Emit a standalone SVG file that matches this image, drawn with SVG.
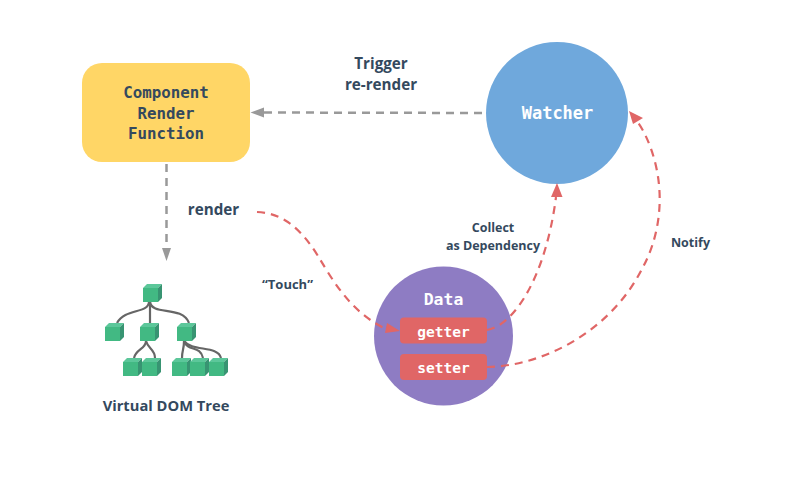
<svg xmlns="http://www.w3.org/2000/svg" width="794" height="477" viewBox="0 0 794 477">
<style>
.lbl{font-family:"Open Sans","Noto Sans",sans-serif;font-weight:700;fill:#34495e;text-anchor:middle}
.mono{font-family:"DejaVu Sans Mono","Liberation Mono",monospace;font-weight:700;text-anchor:middle}
.gray{fill:none;stroke:#999;stroke-width:2.5;stroke-dasharray:8 6}
.red{fill:none;stroke:#e06666;stroke-width:2.2;stroke-dasharray:8 6}
.tree{fill:none;stroke:#666;stroke-width:2.2}
</style>
<defs>
<g id="cube">
<polygon points="0,0 4,-4 19,-4 15,0" fill="#5cc79a"/>
<polygon points="15,0 19,-4 19,10 15,14" fill="#389472"/>
<rect width="15" height="14" fill="#42b983"/>
</g>
</defs>
<rect width="794" height="477" fill="#fff"/>
<g id="render-function">
<rect x="82" y="63" width="168" height="99" rx="20" fill="#ffd666"/>
<text class="mono" x="166" y="98" font-size="15.800" fill="#34495e">Component</text>
<text class="mono" x="166" y="118.500" font-size="15.800" fill="#34495e">Render</text>
<text class="mono" x="166" y="139" font-size="15.800" fill="#34495e">Function</text>
</g>
<g id="watcher">
<circle cx="557" cy="113" r="71" fill="#6fa8dc"/>
<text class="mono" x="557.500" y="119" font-size="17" fill="#fff">Watcher</text>
</g>
<g id="data">
<circle cx="443.500" cy="336" r="69.500" fill="#8e7cc3"/>
<text class="mono" x="443.500" y="305" font-size="16.500" fill="#fff">Data</text>
<rect x="400" y="317.500" width="87" height="26" rx="4" fill="#e06666"/>
<text class="mono" x="443.500" y="336.500" font-size="14.500" fill="#fff">getter</text>
<rect x="400" y="354" width="87" height="26" rx="4" fill="#e06666"/>
<text class="mono" x="443.500" y="372.500" font-size="14.500" fill="#fff">setter</text>
</g>
<g id="vdom-tree">
<g class="tree">
<path d="M149,302C148,314 125,308 117,323"/>
<path d="M150,302V323"/>
<path d="M150,302C152,316 182,305 189,323"/>
<path d="M146,341C146,349 136,349 134,358"/>
<path d="M146,341C148,349 155,349 155,358"/>
<path d="M184,341C184,350 182,350 182,358"/>
<path d="M184,341C188,352 200,345 203,358"/>
<path d="M184,341C192,352 218,345 221,358"/>
</g>
<use href="#cube" x="143" y="288"/>
<use href="#cube" x="105" y="327"/>
<use href="#cube" x="140" y="327"/>
<use href="#cube" x="177" y="327"/>
<use href="#cube" x="123" y="362"/>
<use href="#cube" x="142" y="362"/>
<use href="#cube" x="172" y="362"/>
<use href="#cube" x="190" y="362"/>
<use href="#cube" x="209" y="362"/>
<text class="lbl" x="166" y="411" font-size="14.700">Virtual DOM Tree</text>
</g>
<g id="connectors">
<path class="gray" d="M482,113L264,112.500"/>
<polygon points="250.500,112.500 264,107.500 264,117.500" fill="#999"/>
<path class="gray" d="M166.500,164V247"/>
<polygon points="166.500,261 162,248 171,248" fill="#999"/>
<path class="red" d="M257,212C285,213 303,232 318,256C332,279 350,312 386,329"/>
<polygon points="400,331 387,323 385,333" fill="#e06666"/>
<path class="red" d="M487,330C515,325 546,275 556,197"/>
<polygon points="557,183 562.500,197 551,197" fill="#e06666"/>
<path class="red" d="M487,367C545,366 612,330 643,267C655,245 662,215 659,185C657,162 648,135 636,120"/>
<polygon points="629,111 643,118 633,124" fill="#e06666"/>
</g>
<g id="labels">
<text class="lbl" x="381" y="69" font-size="15.200">Trigger</text>
<text class="lbl" x="381" y="90" font-size="15.200">re-render</text>
<text class="lbl" x="213.500" y="215" font-size="15.200">render</text>
<text class="lbl" x="287.500" y="289" font-size="13">“Touch”</text>
<text class="lbl" x="493" y="232" font-size="12.500">Collect</text>
<text class="lbl" x="493" y="250" font-size="12.500">as Dependency</text>
<text class="lbl" x="690.500" y="247" font-size="12.500">Notify</text>
</g>
</svg>
